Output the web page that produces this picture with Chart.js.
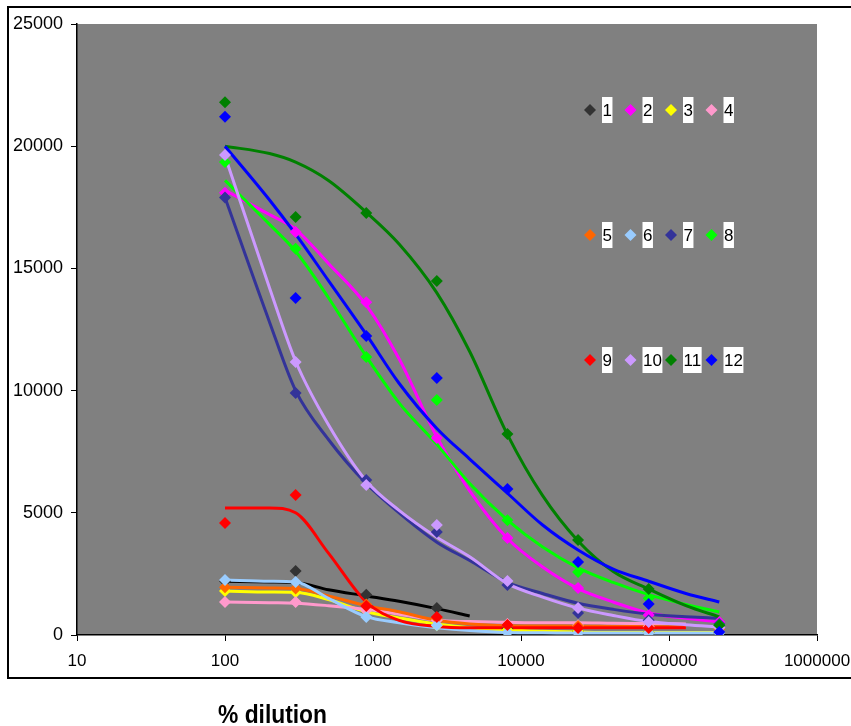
<!DOCTYPE html>
<html>
<head>
<meta charset="utf-8">
<style>
  html, body { margin: 0; padding: 0; background: #fff; }
</style>
</head>
<body>
<canvas id="dilutionChart" width="851" height="726"></canvas>
<script src="https://cdn.jsdelivr.net/npm/chart.js"></script>
<script>
    // legend names and colours (Excel default palette)
    const seriesNames = ['1', '2', '3', '4', '5', '6', '7', '8', '9', '10', '11', '12'];
    const markerColors = ['#333333', '#FF00FF', '#FFFF00', '#FF99CC', '#FF6600', '#99CCFF',
                          '#333399', '#00FF00', '#FF0000', '#CC99FF', '#008000', '#0000FF'];
    const lineColors = ['#000000', '#FF00FF', '#FFFF00', '#FF99CC', '#FF6600', '#99CCFF',
                        '#333399', '#00FF00', '#FF0000', '#CC99FF', '#008000', '#0000FF'];

    // measured points
    const dilutions = [100, 300, 900, 2700, 8100, 24300, 72900, 218700];
    const s1 = [2200, 2620, 1650, 1100, 250, 150, 100, 80];
    const s2 = [18100, 16490, 13620, 8060, 3970, 1920, 820, 530];
    const s3 = [1800, 1750, 1000, 400, 200, 150, 100, 100];
    const s4 = [1350, 1350, 1000, 600, 450, 400, 350, 300];
    const s5 = [1950, 1900, 1250, 700, 400, 370, 300, 250];
    const s6 = [2250, 2170, 740, 400, 100, 80, 80, 80];
    const s7 = [17900, 9900, 6340, 4210, 2050, 900, 600, 450];
    const s8 = [19350, 15800, 11370, 9620, 4700, 2580, 1500, 400];
    const s9 = [4580, 5730, 1190, 740, 410, 290, 290, null];
    const s10 = [19640, 11170, 6140, 4500, 2210, 1100, 530, 300];
    const s11 = [21800, 17100, 17270, 14480, 8220, 3890, 1880, 400];
    const s12 = [21200, 13790, 12230, 10520, 5970, 2990, 1270, 120];

    // fitted curves
    const fitDilutions = [100, 200, 300, 500, 900, 1500, 2700, 4500, 8100, 14000, 24300, 42000, 72900, 130000, 218700];
    const fit1 = [2200, 2170, 2150, 1850, 1600, 1380, 1080, 780, null, null, null, null, null, null, null];
    const fit2 = [18200, 17200, 16600, 15200, 13500, 11300, 8100, 5900, 3950, 2780, 1900, 1350, 900, 680, 530];
    const fit3 = [1800, 1760, 1750, 1450, 950, 700, 450, 300, 200, 150, 120, 100, 100, 100, 100];
    const fit4 = [1350, 1320, 1300, 1200, 1050, 850, 600, 550, 520, 500, 500, 480, 470, 450, null];
    const fit5 = [1950, 1920, 1900, 1600, 1200, 950, 600, 450, 380, 370, 360, 350, 340, 330, null];
    const fit6 = [2250, 2200, 2170, 1500, 750, 500, 300, 180, 100, 90, 80, 80, 80, 80, 80];
    const fit7 = [17900, 12800, 10000, 8000, 6200, 5000, 3800, 3050, 2150, 1700, 1300, 1050, 850, 750, 680];
    const fit8 = [18600, 16800, 15700, 13800, 11400, 9500, 7800, 6200, 4700, 3600, 2750, 2150, 1650, 1250, 940];
    const fit9 = [5200, 5200, 5000, 3350, 1350, 600, 350, 300, 300, 300, 300, 300, 300, 300, null];
    const fit10 = [19600, 14200, 11200, 8600, 6300, 5100, 4000, 3200, 2100, 1550, 1100, 800, 550, 420, 330];
    const fit11 = [20000, 19700, 19350, 18600, 17300, 16000, 14000, 11600, 8200, 5700, 3850, 2600, 1880, 1200, 740];
    const fit12 = [20000, 17800, 16400, 14500, 12300, 10300, 8450, 7200, 5800, 4500, 3480, 2700, 2200, 1700, 1350];

    const xTicks = [10, 100, 1000, 10000, 100000, 1000000];
    const yTicks = [0, 5000, 10000, 15000, 20000, 25000];

    const points = [s1, s2, s3, s4, s5, s6, s7, s8, s9, s10, s11, s12];
    const fits = [fit1, fit2, fit3, fit4, fit5, fit6, fit7, fit8, fit9, fit10, fit11, fit12];

    const pair = (xs, ys) => xs.map((x, i) => ({ x: x, y: ys[i] }));

    const datasets = [];
    fits.forEach((f, i) => {
        datasets.push({
            label: seriesNames[i] + ' fit',
            data: pair(fitDilutions, f),
            borderColor: lineColors[i],
            borderWidth: 3,
            pointRadius: 0,
            cubicInterpolationMode: 'monotone',
            fill: false,
            order: 100 - i
        });
    });
    points.forEach((p, i) => {
        datasets.push({
            label: seriesNames[i],
            data: pair(dilutions, p),
            showLine: false,
            pointStyle: 'rectRot',
            pointRadius: 6,
            pointBorderWidth: 0,
            backgroundColor: markerColors[i],
            borderColor: markerColors[i],
            order: 50 - i
        });
    });

    const frame = {
        id: 'frame',
        beforeDraw(chart) {
            const c = chart.ctx, a = chart.chartArea;
            c.save();
            c.fillStyle = '#fff';
            c.fillRect(0, 0, chart.width, chart.height);
            c.strokeStyle = '#000';
            c.lineWidth = 2;
            c.strokeRect(8, 7, 900, 671);
            c.fillStyle = '#808080';
            c.fillRect(a.left, a.top, a.right - a.left, a.bottom - a.top);
            c.restore();
        },
        afterDraw(chart) {
            const c = chart.ctx;
            c.save();
            // legend, 3 rows of 4 inside the plot
            const rowY = [110, 235, 360];
            c.font = '17px "Liberation Sans", Arial, sans-serif';
            c.textBaseline = 'middle';
            seriesNames.forEach((name, i) => {
                const x = 590 + (i % 4) * 40.5;
                const y = rowY[Math.floor(i / 4)];
                c.fillStyle = markerColors[i];
                c.beginPath();
                c.moveTo(x, y - 6); c.lineTo(x + 6, y); c.lineTo(x, y + 6); c.lineTo(x - 6, y);
                c.closePath(); c.fill();
                const w = c.measureText(name).width;
                c.fillStyle = '#fff';
                c.fillRect(x + 12, y - 13, w + 1, 26);
                c.fillStyle = '#000';
                c.fillText(name, x + 12.5, y + 1);
            });
            // axis title
            c.font = 'bold 25px "Liberation Sans Narrow", "Liberation Sans", Arial, sans-serif';
            c.textBaseline = 'alphabetic';
            const t = '% dilution';
            const tw = c.measureText(t).width;
            c.translate(218, 723);
            c.scale(109 / tw, 1);
            c.fillText(t, 0, 0);
            c.restore();
        }
    };

    const tickFont = { family: '"Liberation Sans", Arial, sans-serif', size: 17 };

    new Chart(document.getElementById('dilutionChart').getContext('2d'), {
        type: 'line',
        data: { datasets: datasets },
        plugins: [frame],
        options: {
            responsive: false,
            animation: false,
            layout: { padding: { top: 24, right: 34, bottom: 0, left: 0 } },
            plugins: { legend: { display: false }, tooltip: { enabled: false } },
            scales: {
                x: {
                    type: 'logarithmic',
                    min: 10,
                    max: 1000000,
                    afterBuildTicks: s => { s.ticks = xTicks.map(v => ({ value: v })); },
                    afterFit: s => { s.height = 91; s.paddingLeft = 0; s.paddingRight = 0; },
                    ticks: { callback: v => String(v), font: tickFont, color: '#000', padding: 10, maxRotation: 0, autoSkip: false },
                    grid: { drawOnChartArea: false, tickLength: 6, tickColor: '#000', color: '#000' },
                    border: { color: '#000', width: 1.5 }
                },
                y: {
                    min: 0,
                    max: 25000,
                    afterBuildTicks: s => { s.ticks = yTicks.map(v => ({ value: v })); },
                    afterFit: s => { s.width = 77; s.paddingTop = 0; s.paddingBottom = 0; },
                    ticks: { callback: v => String(v), font: { family: tickFont.family, size: 18 }, color: '#000', padding: 8 },
                    grid: { drawOnChartArea: false, tickLength: 6, tickColor: '#000', color: '#000' },
                    border: { color: '#000', width: 1.5 }
                }
            }
        }
    });
</script>
</body>
</html>
